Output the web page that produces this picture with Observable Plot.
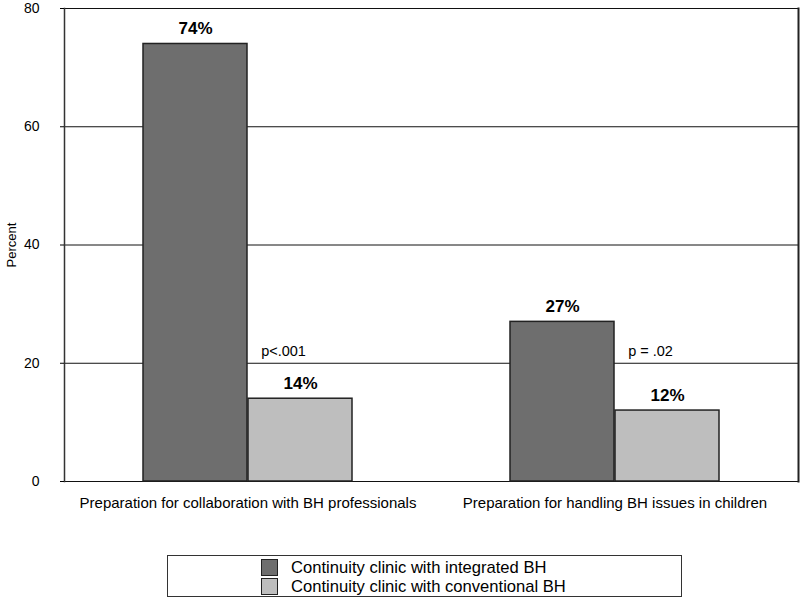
<!DOCTYPE html>
<html><head><meta charset="utf-8">
<script src="https://cdn.jsdelivr.net/npm/d3@7"></script>
<script src="https://cdn.jsdelivr.net/npm/@observablehq/plot@0.6"></script>
<style>
body{margin:0;background:#fff;font-family:"Liberation Sans",Arial,sans-serif;}
#chart{position:absolute;left:0;top:0;}
#legend{position:absolute;left:167px;top:555px;width:513px;height:40px;border:1px solid #333;box-sizing:content-box;font-size:16.6px;color:#000;}
.item{position:absolute;left:93px;display:flex;align-items:center;height:19px;}
.sw{width:15px;height:15px;border:1px solid #222;margin-right:13px;}
</style></head><body><div id="chart"></div><div id="legend"></div>
<script>
const categories = ["Preparation for collaboration with BH professionals", "Preparation for handling BH issues in children"];
const series = ["Continuity clinic with integrated BH", "Continuity clinic with conventional BH"];
const integrated = [74, 27];
const conventional = [14, 12];
const pValues = ["p<.001", "p = .02"];
const pLabelY = 22;
const colors = ["#6e6e6e", "#bebebe"];
const yTicks = [0, 20, 40, 60, 80];

const rows = [];
categories.forEach((c, i) => {
  rows.push({category: c, series: series[0], value: integrated[i], label: integrated[i] + "%"});
  rows.push({category: c, series: series[1], value: conventional[i], label: conventional[i] + "%"});
});
const pRows = categories.map((c, i) => ({category: c, series: series[1], y: pLabelY, text: pValues[i]}));

const chart = Plot.plot({
  width: 800, height: 520,
  marginTop: 8, marginBottom: 39, marginLeft: 63, marginRight: 2,
  style: {fontFamily: "Liberation Sans, Arial, sans-serif", fontSize: "14px", color: "#000", background: "#fff", overflow: "visible"},
  fx: {domain: categories, padding: 0, label: null},
  x: {domain: series, paddingInner: 0.01, paddingOuter: 0.75, axis: null},
  y: {domain: [0, 80]},
  color: {domain: series, range: colors},
  marks: [
    Plot.ruleY(yTicks, {stroke: "#111", strokeWidth: 1}),
    Plot.barY(rows, {fx: "category", x: "series", y: "value", fill: "series", stroke: "#222", strokeWidth: 1.5}),
    Plot.text(rows, {fx: "category", x: "series", y: "value", text: "label", dy: -15, fontWeight: "bold", fontSize: 17}),
    Plot.text(pRows, {fx: "category", x: "series", y: "y", text: "text", dx: -17, fontSize: 14.5}),
    Plot.frame({anchor: "left", facetAnchor: "left", stroke: "#333", strokeWidth: 1.5}),
    Plot.frame({anchor: "right", facetAnchor: "right", stroke: "#222", strokeWidth: 2}),
    Plot.axisFx({anchor: "bottom", tickSize: 0, tickPadding: 16, label: null, fontSize: 15}),
    Plot.axisY({ticks: yTicks, tickSize: 4, tickPadding: 21, label: "Percent", labelAnchor: "center", labelArrow: "none", labelOffset: 58, fontSize: 14})
  ]
});
document.getElementById("chart").appendChild(chart);
chart.querySelectorAll("text").forEach(t => { if (t.textContent === "Percent") t.setAttribute("font-size", 13); });

const legend = document.getElementById("legend");
series.forEach((s, i) => {
  const d = document.createElement("div");
  d.className = "item";
  d.style.top = (2 + i * 19) + "px";
  d.innerHTML = `<div class="sw" style="background:${colors[i]}"></div><span>${s}</span>`;
  legend.appendChild(d);
});
</script></body></html>
